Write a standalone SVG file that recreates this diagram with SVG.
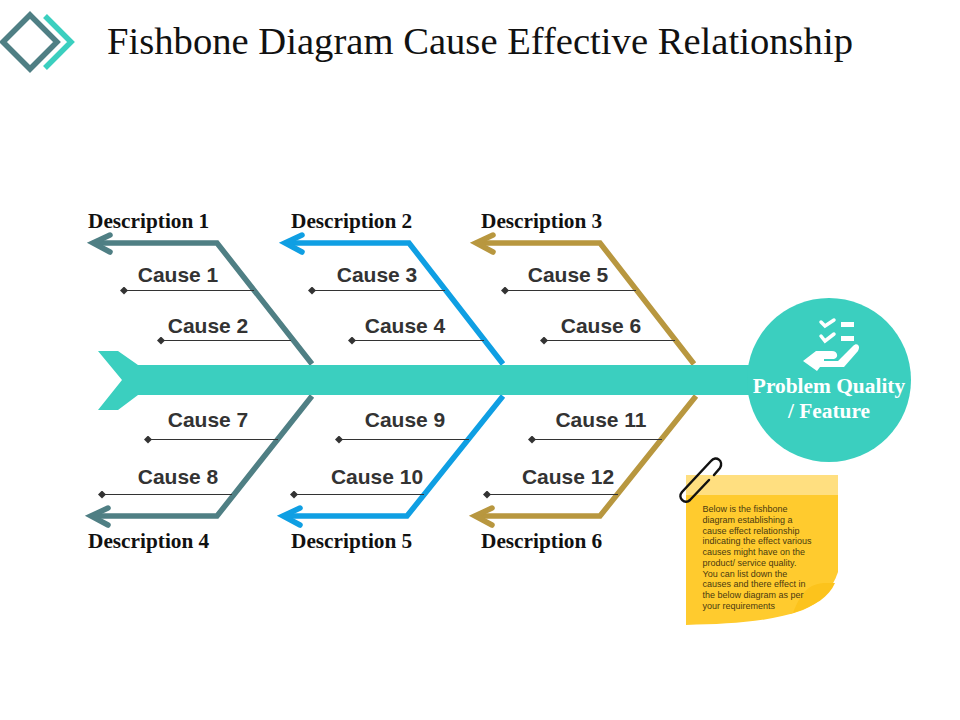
<svg xmlns="http://www.w3.org/2000/svg" width="960" height="720" viewBox="0 0 960 720">
<defs>
<marker id="dot" viewBox="-4 -4 8 8" markerWidth="8" markerHeight="8" markerUnits="userSpaceOnUse" refX="0" refY="0" orient="auto"><path d="M-4 0L0-4L4 0L0 4Z" fill="#333"/></marker>
</defs>
<style>
.t{font-family:"Liberation Serif",serif}
.d{font-family:"Liberation Serif",serif;font-weight:bold;font-size:21.300px;fill:#111}
.c{font-family:"Liberation Sans",Arial,sans-serif;font-weight:bold;font-size:21px;fill:#333;text-anchor:middle}
.l{stroke:#333;stroke-width:1.2;fill:none;marker-start:url(#dot)}
.b{fill:none;stroke-width:5.5;stroke-linejoin:miter}
.a{fill:none;stroke-width:5.5;stroke-linecap:round;stroke-linejoin:miter}
.n{font-family:"Liberation Sans",Arial,sans-serif;font-size:9px;fill:#4a3a10}
</style>
<rect width="960" height="720" fill="#fff"/>
<g id="logo">
<path d="M30 15L57 42L30 69L3 42Z" fill="none" stroke="#4f7f84" stroke-width="5.500"/>
<path d="M45 16L71 42L45 68" fill="none" stroke="#3bcfbf" stroke-width="5.500"/>
</g>
<text id="title" class="t" x="107" y="54" font-size="38.500" fill="#111" textLength="746" lengthAdjust="spacingAndGlyphs">Fishbone Diagram Cause Effective Relationship</text>
<g id="connectors">
<g stroke="#4f7f84">
<path class="b" d="M312 364L217 243H94"/><path class="a" d="M110 235L93 243L110 252"/>
<path class="b" d="M312 396L217 516H92"/><path class="a" d="M108 508L91 516L108 525"/>
</g>
<g stroke="#0f9fe3">
<path class="b" d="M503 364L409 243H288"/><path class="a" d="M302 235L285 243L302 252"/>
<path class="b" d="M503 396L407 516H286"/><path class="a" d="M300 508L283 516L300 525"/>
</g>
<g stroke="#b8973f">
<path class="b" d="M694 364L600 243H478"/><path class="a" d="M493 235L476 243L493 252"/>
<path class="b" d="M696 396L600 516H478"/><path class="a" d="M492 508L475 516L492 525"/>
</g>
<path class="l" d="M124 290.500H254"/>
<path class="l" d="M161 340.500H291"/>
<path class="l" d="M312 290.500H445"/>
<path class="l" d="M352 340.500H484"/>
<path class="l" d="M505 290.500H636"/>
<path class="l" d="M544 340.500H675"/>
<path class="l" d="M148 439.500H278"/>
<path class="l" d="M339 439.500H469"/>
<path class="l" d="M532 439.500H662"/>
<path class="l" d="M102 494.500H232"/>
<path class="l" d="M294 494.500H424"/>
<path class="l" d="M487 494.500H618"/>
</g>
<g id="spine"><path d="M98 351H118L138 365H760V395H138L118 410H98L122 380Z" fill="#3bcfbf"/></g>
<g id="head">
<circle cx="829" cy="380" r="82" fill="#3bcfbf"/>
<g fill="none" stroke="#fff" stroke-width="3.500" stroke-linecap="round">
<path d="M821 322L825 326L834 320"/><path d="M821 336L825 341L834 334"/>
</g>
<g fill="#fff">
<rect x="841" y="322" width="13" height="5"/><rect x="841" y="336" width="13" height="5"/>
<path d="M803 361L816 351H832C838 351 839 358 834 359H824V361H838L853 346C857 342 861 346 858 351L844 367H820L817 371Z"/>
</g>
<text class="t" x="829" y="393" text-anchor="middle" font-size="21.400" font-weight="bold" fill="#fff">Problem Quality</text>
<text class="t" x="829" y="418" text-anchor="middle" font-size="21.400" font-weight="bold" fill="#fff">/ Feature</text>
</g>
<g id="labels">
<text class="d" x="88" y="228">Description 1</text>
<text class="d" x="291" y="228">Description 2</text>
<text class="d" x="481" y="228">Description 3</text>
<text class="d" x="88" y="548">Description 4</text>
<text class="d" x="291" y="548">Description 5</text>
<text class="d" x="481" y="548">Description 6</text>
<text class="c" x="178" y="282">Cause 1</text>
<text class="c" x="208" y="333">Cause 2</text>
<text class="c" x="377" y="282">Cause 3</text>
<text class="c" x="405" y="333">Cause 4</text>
<text class="c" x="568" y="282">Cause 5</text>
<text class="c" x="601" y="333">Cause 6</text>
<text class="c" x="208" y="427">Cause 7</text>
<text class="c" x="178" y="484">Cause 8</text>
<text class="c" x="405" y="427">Cause 9</text>
<text class="c" x="377" y="484">Cause 10</text>
<text class="c" x="601" y="427">Cause 11</text>
<text class="c" x="568" y="484">Cause 12</text>
</g>
<g id="note">
<path d="M686 475H838V572C832 590 820 603 803 610C770 622 730 624 686 625Z" fill="#ffcb2e"/>
<path d="M835 583C828 583 820 582 812 586C803 591 798 600 793 613C815 606 829 597 835 583Z" fill="#fcc31c"/>
<rect x="686" y="475" width="152" height="20" fill="#ffdf80"/>
<path d="M709 480L690 500C685 505 677 498 682 492L711 461C716 455 724 461 720 468L714 475" fill="none" stroke="#111" stroke-width="2.500" stroke-linecap="round" stroke-linejoin="round"/>
<text class="n"><tspan x="702.500" y="512">Below is the fishbone</tspan><tspan x="702.500" y="523">diagram establishing a</tspan><tspan x="702.500" y="534">cause effect relationship</tspan><tspan x="702.500" y="544">indicating the effect various</tspan><tspan x="702.500" y="555">causes might have on the</tspan><tspan x="702.500" y="566">product/ service quality.</tspan><tspan x="702.500" y="577">You can list down the</tspan><tspan x="702.500" y="587">causes and there effect in</tspan><tspan x="702.500" y="598">the below diagram as per</tspan><tspan x="702.500" y="609">your requirements</tspan></text>
</g>
</svg>
